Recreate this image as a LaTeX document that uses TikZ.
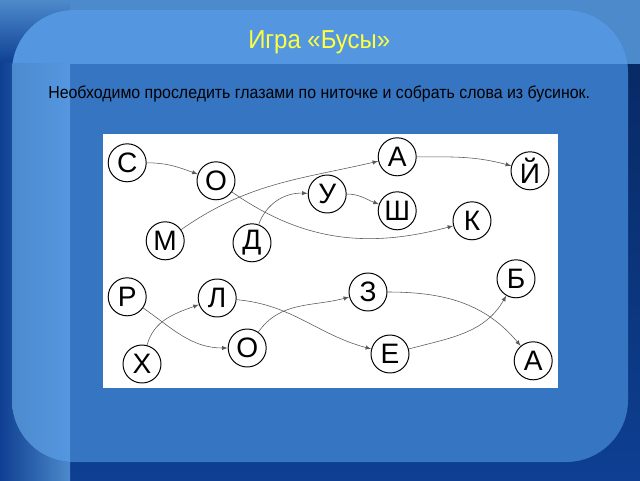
\documentclass[tikz,border=0pt]{standalone}
\usepackage{fontspec}
\setmainfont{Liberation Sans}
\newfontfamily\narrowfont[FakeStretch=0.92]{Liberation Sans}
\definecolor{bgdark}{HTML}{0E3F92}
\definecolor{bgnavy}{HTML}{082A66}
\definecolor{bgtop}{HTML}{4D8ACB}
\definecolor{paneltop}{HTML}{5497E0}
\definecolor{panelmid}{HTML}{3575C2}
\definecolor{titleyellow}{HTML}{FFFF40}

\begin{document}
\begin{tikzpicture}[
  bead/.style={draw,circle,line width=0.7pt,minimum size=0.95cm,inner sep=0pt,font=\fontsize{20}{24}\selectfont},
  thread/.style={draw=black!65,line width=0.4pt,-latex}]
\useasboundingbox (0,0) rectangle (16,12);

% background of the slide
\shade[top color=bgnavy,bottom color=bgdark] (0,0) rectangle (16,10.4);
\fill[bgtop] (1.75,10.4) rectangle (16,12);
\shade[top color=bgtop,bottom color=bgdark] (0,10.4) rectangle (1.75,12);
\shade[left color=bgdark,right color=bgtop] (0,0) rectangle (1.75,10.4);
\fill[panelmid,rounded corners=1.55cm] (0.3,0.45) rectangle (15.7,11.75);
\begin{scope}
\clip[rounded corners=1.55cm] (0.3,0.45) rectangle (15.7,11.75);
\fill[paneltop] (0,10.4) rectangle (16,12);
\shade[left color=paneltop!90!black,right color=paneltop] (0,0) rectangle (1.75,10.4);
\end{scope}

\node[text=titleyellow,font=\narrowfont\fontsize{18.5}{22}\selectfont] (title) at (7.98,10.95) {Игра «Бусы»};
\node[font=\narrowfont\fontsize{12.3}{15}\selectfont] (task) at (7.98,9.65) {Необходимо проследить глазами по ниточке и собрать слова из бусинок.};

\fill[white] (2.575,2.3) rectangle (13.95,8.65);

\node[bead] (c1) at (3.18,7.93) {С};
\node[bead] (o1) at (5.40,7.48) {О};
\node[bead] (a1) at (9.93,8.08) {А};
\node[bead] (j1) at (13.25,7.73) {Й};
\node[bead] (u1) at (8.18,7.15) {У};
\node[bead] (sh1) at (9.93,6.73) {Ш};
\node[bead] (k1) at (11.80,6.48) {К};
\node[bead] (m1) at (4.13,5.98) {М};
\node[bead] (d1) at (6.30,5.93) {Д};

\node[bead] (r1) at (3.18,4.58) {Р};
\node[bead] (l1) at (5.43,4.55) {Л};
\node[bead] (z1) at (9.20,4.70) {З};
\node[bead] (b1) at (12.90,5.03) {Б};
\node[bead] (o2) at (6.18,3.30) {О};
\node[bead] (e1) at (9.75,3.15) {Е};
\node[bead] (h1) at (3.55,2.90) {Х};
\node[bead] (a2) at (13.33,2.98) {А};

\draw[thread] (c1) to[out=0,in=160] (o1);
\draw[thread] (o1) to[out=-35,in=195] (k1);
\draw[thread] (m1) to[out=35,in=193] (a1);
\draw[thread] (a1) to[out=0,in=165] (j1);
\draw[thread] (d1) to[out=70,in=178] (u1);
\draw[thread] (u1) to[out=0,in=160] (sh1);

\draw[thread] (r1) to[out=-35,in=180] (o2);
\draw[thread] (o2) to[out=55,in=195] (z1);
\draw[thread] (z1) to[out=0,in=130] (a2);
\draw[thread] (h1) to[out=75,in=200] (l1);
\draw[thread] (l1) to[out=-5,in=165] (e1);
\draw[thread] (e1) to[out=15,in=240] (b1);
\end{tikzpicture}
\end{document}
